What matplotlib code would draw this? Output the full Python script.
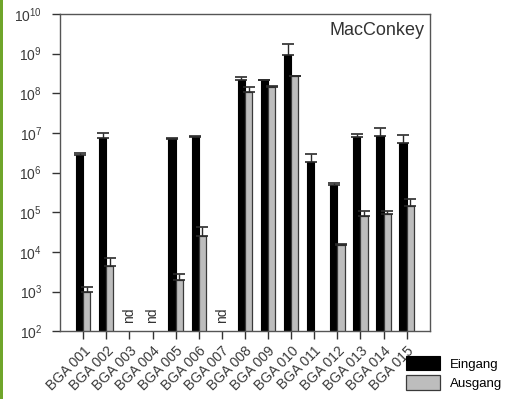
import numpy as np
import matplotlib
matplotlib.use('Agg')
import matplotlib.pyplot as plt
from matplotlib.patches import Rectangle

plt.rcParams['font.family'] = ['Liberation Sans', 'DejaVu Sans']
plt.rcParams['mathtext.default'] = 'regular'

samples = ['BGA 001', 'BGA 002', 'BGA 003', 'BGA 004', 'BGA 005', 'BGA 006', 'BGA 007', 'BGA 008',
           'BGA 009', 'BGA 010', 'BGA 011', 'BGA 012', 'BGA 013', 'BGA 014', 'BGA 015']
# nan = not detected / no bar
eingang = [2.7e6, 7.5e6, np.nan, np.nan, 6.9e6, 8.1e6, np.nan, 2.1e8,
           2.1e8, 9.1e8, 1.8e6, 4.8e5, 7.7e6, 8.3e6, 5.7e6]
eingang_top = [3.1e6, 1.0e7, np.nan, np.nan, 7.5e6, 8.2e6, np.nan, 2.5e8,
               2.2e8, 1.78e9, 2.9e6, 5.5e5, 9.5e6, 1.35e7, 8.7e6]
ausgang = [1.0e3, 4.4e3, np.nan, np.nan, 2.0e3, 2.5e4, np.nan, 1.1e8,
           1.4e8, 2.7e8, np.nan, 1.5e4, 7.9e4, 8.9e4, 1.45e5]
ausgang_top = [1.3e3, 7.0e3, np.nan, np.nan, 2.8e3, 4.3e4, np.nan, 1.4e8,
               1.55e8, 2.75e8, np.nan, 1.55e4, 1.07e5, 1.1e5, 2.1e5]
nd_samples = ['BGA 003', 'BGA 004', 'BGA 007']

fig = plt.figure(figsize=(5.05, 3.99), dpi=100)
ax = fig.add_axes([0.119, 0.170, 0.732, 0.795])

# green stripe at the left edge
fig.patches.append(Rectangle((0, 0), 3 / 505, 1, transform=fig.transFigure,
                             facecolor='#6fa52a', edgecolor='none'))

x = np.arange(len(samples))
w = 0.31
e = np.array(eingang)
a = np.array(ausgang)
ax.bar(x - w / 2, e, w, color='black', edgecolor='black', linewidth=0.8, label='Eingang')
ax.bar(x + w / 2, a, w, color='#bdbdbd', edgecolor='#3a3a3a', linewidth=0.9, label='Ausgang')
ax.errorbar(x - w / 2, e, yerr=[np.zeros(len(e)), np.array(eingang_top) - e], fmt='none',
            ecolor='#2a2a2a', elinewidth=1.0, capsize=4.3, capthick=1.2)
ax.errorbar(x + w / 2, a, yerr=[np.zeros(len(a)), np.array(ausgang_top) - a], fmt='none',
            ecolor='#2a2a2a', elinewidth=1.0, capsize=4.3, capthick=1.2)

for s in nd_samples:
    ax.text(samples.index(s), 1.6e2, 'nd', rotation=90, ha='center', va='bottom',
            fontsize=10, color='#333333')

ax.set_yscale('log')
ax.set_ylim(1e2, 1e10)
ax.set_xlim(-1, len(samples))
ax.set_yticks([10.0 ** k for k in range(2, 11)])
ax.set_yticklabels(['10$^{%d}$' % k for k in range(2, 11)])
ax.minorticks_off()
ax.set_xticks(x)
ax.set_xticklabels(samples, rotation=45, ha='right', va='top', rotation_mode='anchor')
ax.tick_params(axis='both', direction='out', length=6, width=1, color='#333333',
               labelsize=10, labelcolor='#3a3a3a')
ax.tick_params(axis='x', pad=3)
ax.tick_params(axis='y', pad=7)
for sp in ax.spines.values():
    sp.set_color('#555555')
    sp.set_linewidth(1)

ax.text(0.985, 0.975, 'MacConkey', transform=ax.transAxes, ha='right', va='top',
        fontsize=13, color='#333333')

fig.legend(loc='upper left', bbox_to_anchor=(406 / 505, 1 - 356 / 399), frameon=False,
           fontsize=9.5, handlelength=2.6, handleheight=1.3, labelspacing=0.35,
           handletextpad=0.7, borderpad=0, borderaxespad=0)

plt.savefig('out.png', dpi=100)
